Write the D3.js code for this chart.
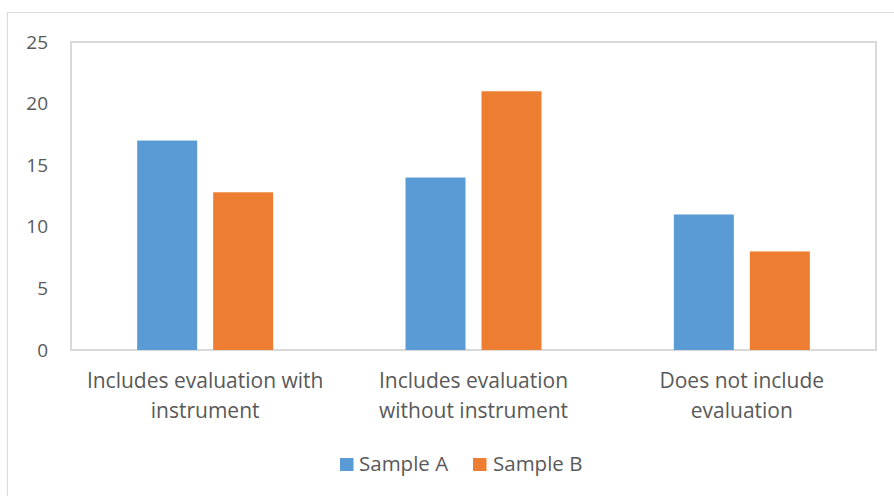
<!DOCTYPE html>
<html><head><meta charset="utf-8">
<script src="https://cdn.jsdelivr.net/npm/d3@7"></script>
<style>body{margin:0;background:#fff}svg{display:block}text{font-family:"Open Sans","Noto Sans",sans-serif;fill:#595959}</style>
</head><body><svg id="c" width="894" height="496"></svg>
<script>
const categories = [["Includes evaluation with","instrument"],["Includes evaluation","without instrument"],["Does not include","evaluation"]];
const seriesNames = ["Sample A","Sample B"];
const sampleA = [17, 14, 11];
const sampleB = [12.8, 21, 8];
const yTicks = [0,5,10,15,20,25];
const colors = ["#5b9bd5","#ed7d31"];

const svg = d3.select("#c");
svg.append("rect").attr("x",7.5).attr("y",12.5).attr("width",900).attr("height",490).attr("fill","none").attr("stroke","#d9d9d9").attr("stroke-width",1);
const L=71, R=876, T=42, B=350;
const x = d3.scaleBand().domain(d3.range(categories.length)).range([L,R]);
const y = d3.scaleLinear().domain([0,25]).range([B,T]);
const barW = 60, gap = 16;
svg.append("rect").attr("x",L).attr("y",T).attr("width",R-L).attr("height",B-T).attr("fill","none").attr("stroke","#d9d9d9").attr("stroke-width",2);
const series=[sampleA,sampleB];
series.forEach((vals,si)=>{
  svg.selectAll(null).data(vals).enter().append("rect")
   .attr("x",(d,i)=>x(i)+x.bandwidth()/2-(barW+gap/2)+si*(barW+gap))
   .attr("y",d=>y(d)).attr("width",barW).attr("height",d=>B-y(d)).attr("fill",colors[si]);
});
const yAxis = svg.append("g").attr("transform",`translate(${L},0)`).call(d3.axisLeft(y).tickValues(yTicks).tickSize(0).tickPadding(23));
yAxis.select(".domain").remove();
yAxis.selectAll("text").style("font-size","19px").attr("fill","#595959").attr("font-family",'"Open Sans","Noto Sans",sans-serif');
categories.forEach((lines,i)=>{
  const t=svg.append("text").attr("text-anchor","middle").style("font-size","21px");
  lines.forEach((ln,j)=>t.append("tspan").attr("x",x(i)+x.bandwidth()/2).attr("y",388+j*30).text(ln));
});
const leg=[{x:340,tx:359},{x:473,tx:493}];
seriesNames.forEach((n,i)=>{
  svg.append("rect").attr("x",leg[i].x).attr("y",458).attr("width",13.5).attr("height",13).attr("fill",colors[i]);
  svg.append("text").attr("x",leg[i].tx).attr("y",471).style("font-size","20.5px").text(n);
});
</script></body></html>
